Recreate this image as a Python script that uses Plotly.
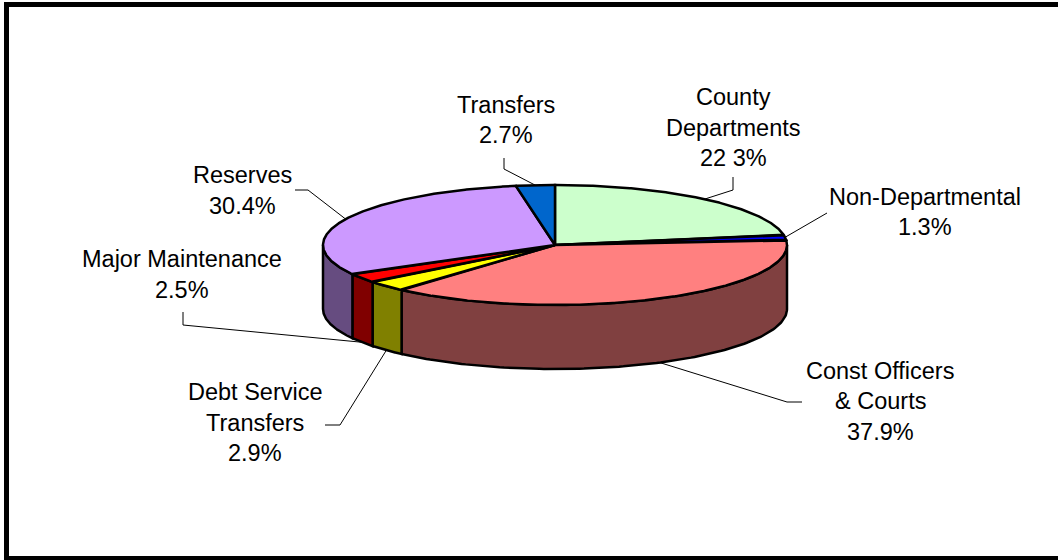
import numpy as np
import plotly.graph_objects as go

# ---------------- data ----------------
categories = ["County Departments", "Non-Departmental", "Const Officers & Courts",
              "Debt Service Transfers", "Major Maintenance", "Reserves", "Transfers"]
values = [22.3, 1.3, 37.9, 2.9, 2.5, 30.4, 2.7]
label_lines = [["County", "Departments", "22 3%"],
               ["Non-Departmental", "1.3%"],
               ["Const Officers", "& Courts", "37.9%"],
               ["Debt Service", "Transfers", "2.9%"],
               ["Major Maintenance", "2.5%"],
               ["Reserves", "30.4%"],
               ["Transfers", "2.7%"]]
top_colors = ["#CCFFCC", "#0000FF", "#FF8080", "#FFFF00", "#FF0000", "#CC99FF", "#0066CC"]
side_colors = ["#668066", "#000080", "#804040", "#808000", "#800000", "#664C80", "#003366"]

# ---------------- layout of the 3-D pie (pixel space) ----------------
W, H = 1058, 560
CX, CY = 555, 245      # centre of top face
RX, RY = 232, 60       # radii of top ellipse
DEPTH = 64             # thickness of pie
FONT = dict(family="Liberation Sans, Arial, sans-serif", size=23.5, color="black")
LINE_GAP = 30.5

# label placement (centre x, centre y of first line) and leader elbows
label_pos = [(733, 97), (925, 196.5), (880, 370.5), (255, 392), (182, 259), (242, 175), (505.5, 104.5)]
leader_elbows = [[(733, 177), (733, 190)],
                 [(827, 213)],
                 [(802, 402), (787, 402)],
                 [(325, 425), (340, 425)],
                 [(183, 312), (183, 325)],
                 [(295, 190), (308, 190)],
                 [(504, 158), (504, 169)]]


def ell(theta_deg, dy=0.0):
    t = np.radians(theta_deg)
    return CX + RX * np.sin(t), CY - RY * np.cos(t) + dy


fig = go.Figure()

total = float(sum(values))
bounds = np.concatenate([[0.0], np.cumsum(values)]) / total * 360.0

# side walls (front half only: 90..270 degrees)
for i in range(len(values)):
    a, b = max(bounds[i], 90.0), min(bounds[i + 1], 270.0)
    if b <= a:
        continue
    th = np.linspace(a, b, 120)
    xt, yt = ell(th)
    xb, yb = ell(th[::-1], DEPTH)
    xs = np.concatenate([xt, xb, xt[:1]])
    ys = np.concatenate([yt, yb, yt[:1]])
    fig.add_trace(go.Scatter(x=xs, y=ys, mode="lines", fill="toself",
                             fillcolor=side_colors[i],
                             line=dict(color="black", width=2.5),
                             hoverinfo="skip", showlegend=False))

# top faces
for i in range(len(values)):
    th = np.linspace(bounds[i], bounds[i + 1], max(8, int((bounds[i + 1] - bounds[i]) * 3)))
    xt, yt = ell(th)
    xs = np.concatenate([[CX], xt, [CX]])
    ys = np.concatenate([[CY], yt, [CY]])
    fig.add_trace(go.Scatter(x=xs, y=ys, mode="lines", fill="toself",
                             fillcolor=top_colors[i],
                             line=dict(color="black", width=2.5),
                             hoverinfo="skip", showlegend=False, name=categories[i]))

# leader lines and labels
annotations = []
for i in range(len(values)):
    mid = (bounds[i] + bounds[i + 1]) / 2.0
    front = 90.0 < mid < 270.0
    ax, ay = ell(mid, DEPTH if front else 0.0)
    pts = leader_elbows[i] + [(ax, ay)]
    fig.add_trace(go.Scatter(x=[p[0] for p in pts], y=[p[1] for p in pts], mode="lines",
                             line=dict(color="black", width=1),
                             hoverinfo="skip", showlegend=False))
    lx, ly = label_pos[i]
    for k, txt in enumerate(label_lines[i]):
        annotations.append(dict(x=lx, y=ly + k * LINE_GAP, xref="x", yref="y",
                                text=txt, showarrow=False, font=FONT,
                                xanchor="center", yanchor="middle"))

fig.update_layout(
    width=W, height=H,
    margin=dict(l=0, r=0, t=0, b=0),
    paper_bgcolor="white", plot_bgcolor="white",
    xaxis=dict(range=[0, W], visible=False, fixedrange=True),
    yaxis=dict(range=[H, 0], visible=False, fixedrange=True),
    annotations=annotations,
    shapes=[dict(type="rect", xref="x", yref="y", x0=6.5, y0=4.5, x1=W + 10, y1=558.5,
                 line=dict(color="black", width=5), fillcolor="rgba(0,0,0,0)", layer="above")],
    showlegend=False,
)

fig.write_html("out.html")
